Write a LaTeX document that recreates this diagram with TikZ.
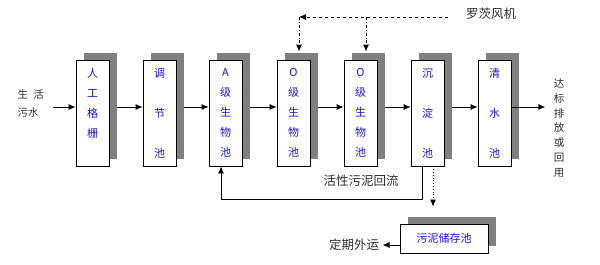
\documentclass[tikz,border=0pt]{standalone}
\usepackage{fontspec}
\setmainfont{Noto Sans CJK SC}
\usetikzlibrary{arrows.meta,shadows}
\definecolor{pooltext}{RGB}{25,25,215}
\definecolor{notegray}{RGB}{45,45,45}

\begin{document}
\begin{tikzpicture}[x=1pt, y=-1pt, >={Latex[length=7pt,width=6pt]},
	pool/.style={draw, fill=white, line width=0.8pt, minimum width=33pt, minimum height=106pt, inner sep=0pt, align=center, text=pooltext, font=\fontsize{11}{20}\selectfont, drop shadow={shadow xshift=8pt, shadow yshift=7pt, fill=black!50, opacity=1}},
	note/.style={text=notegray, font=\fontsize{12.5}{14}\selectfont},
	flow/.style={->, line width=0.8pt}]
	\useasboundingbox (0,0) rectangle (600,265);
	\node[pool] (b1) at (92.5,113) {人\\工\\格\\栅\\\mbox{}};
	\node[pool] (b2) at (159.5,113) {调\\[20pt]节\\[20pt]池};
	\node[pool] (b3) at (225.5,113) {A\\级\\生\\物\\池};
	\node[pool] (b4) at (293.5,113) {O\\级\\生\\物\\池};
	\node[pool] (b5) at (360.5,113) {O\\级\\生\\物\\池};
	\node[pool] (b6) at (427.5,113) {沉\\[20pt]淀\\[20pt]池};
	\node[pool] (b7) at (494.5,113) {清\\[20pt]水\\[20pt]池};
	\node[note, anchor=west, align=left, font=\fontsize{10.5}{18}\selectfont] (src) at (14,104) {生\enspace 活\\污水};
	\node[note, align=center, font=\fontsize{10.5}{14.7}\selectfont] (out) at (559,128) {达\\标\\排\\放\\或\\回\\用};
	\node[note] (fan) at (491,14) {罗茨风机};
	\node[note] (ret) at (361,181) {活性污泥回流};
	\node[pool, minimum width=88pt, minimum height=29pt] (sludge) at (444,238.5) {污泥储存池};
	\node[note] (haul) at (354,245) {定期外运};
	\coordinate (air) at (448,17);
	\coordinate (tapa) at (299,17);
	\coordinate (tapb) at (366,17);
	\draw[flow] ([xshift=6pt,yshift=-3pt]src.east) -- ([yshift=6pt]b1.west);
	\foreach \a/\b in {b1/b2,b2/b3,b3/b4,b4/b5,b5/b6,b6/b7} {\draw[flow] ([xshift=8pt,yshift=6pt]\a.east) -- ([yshift=6pt]\b.west);}
	\draw[flow] ([yshift=6pt]b7.east) -- ++(34,0);
	\draw[flow, dashed] (air) -- (tapa);
	\draw[flow, dash dot] (tapa) -- ([xshift=5.5pt,yshift=8pt]b4.north);
	\draw[flow, dash dot] (tapb) -- ([xshift=5.5pt,yshift=8pt]b5.north);
	\draw[flow] ([xshift=-5.5pt]b6.south) -- ++(0,33) -| ([xshift=-4.5pt]b3.south);
	\draw[flow, dotted, shorten >=17pt] ([xshift=5.5pt]b6.south) -- ([xshift=5.5pt]b6.south |- sludge.north);
	\draw[flow] ([yshift=-6.5pt]sludge.west) -- (haul.east);
\end{tikzpicture}
\end{document}
